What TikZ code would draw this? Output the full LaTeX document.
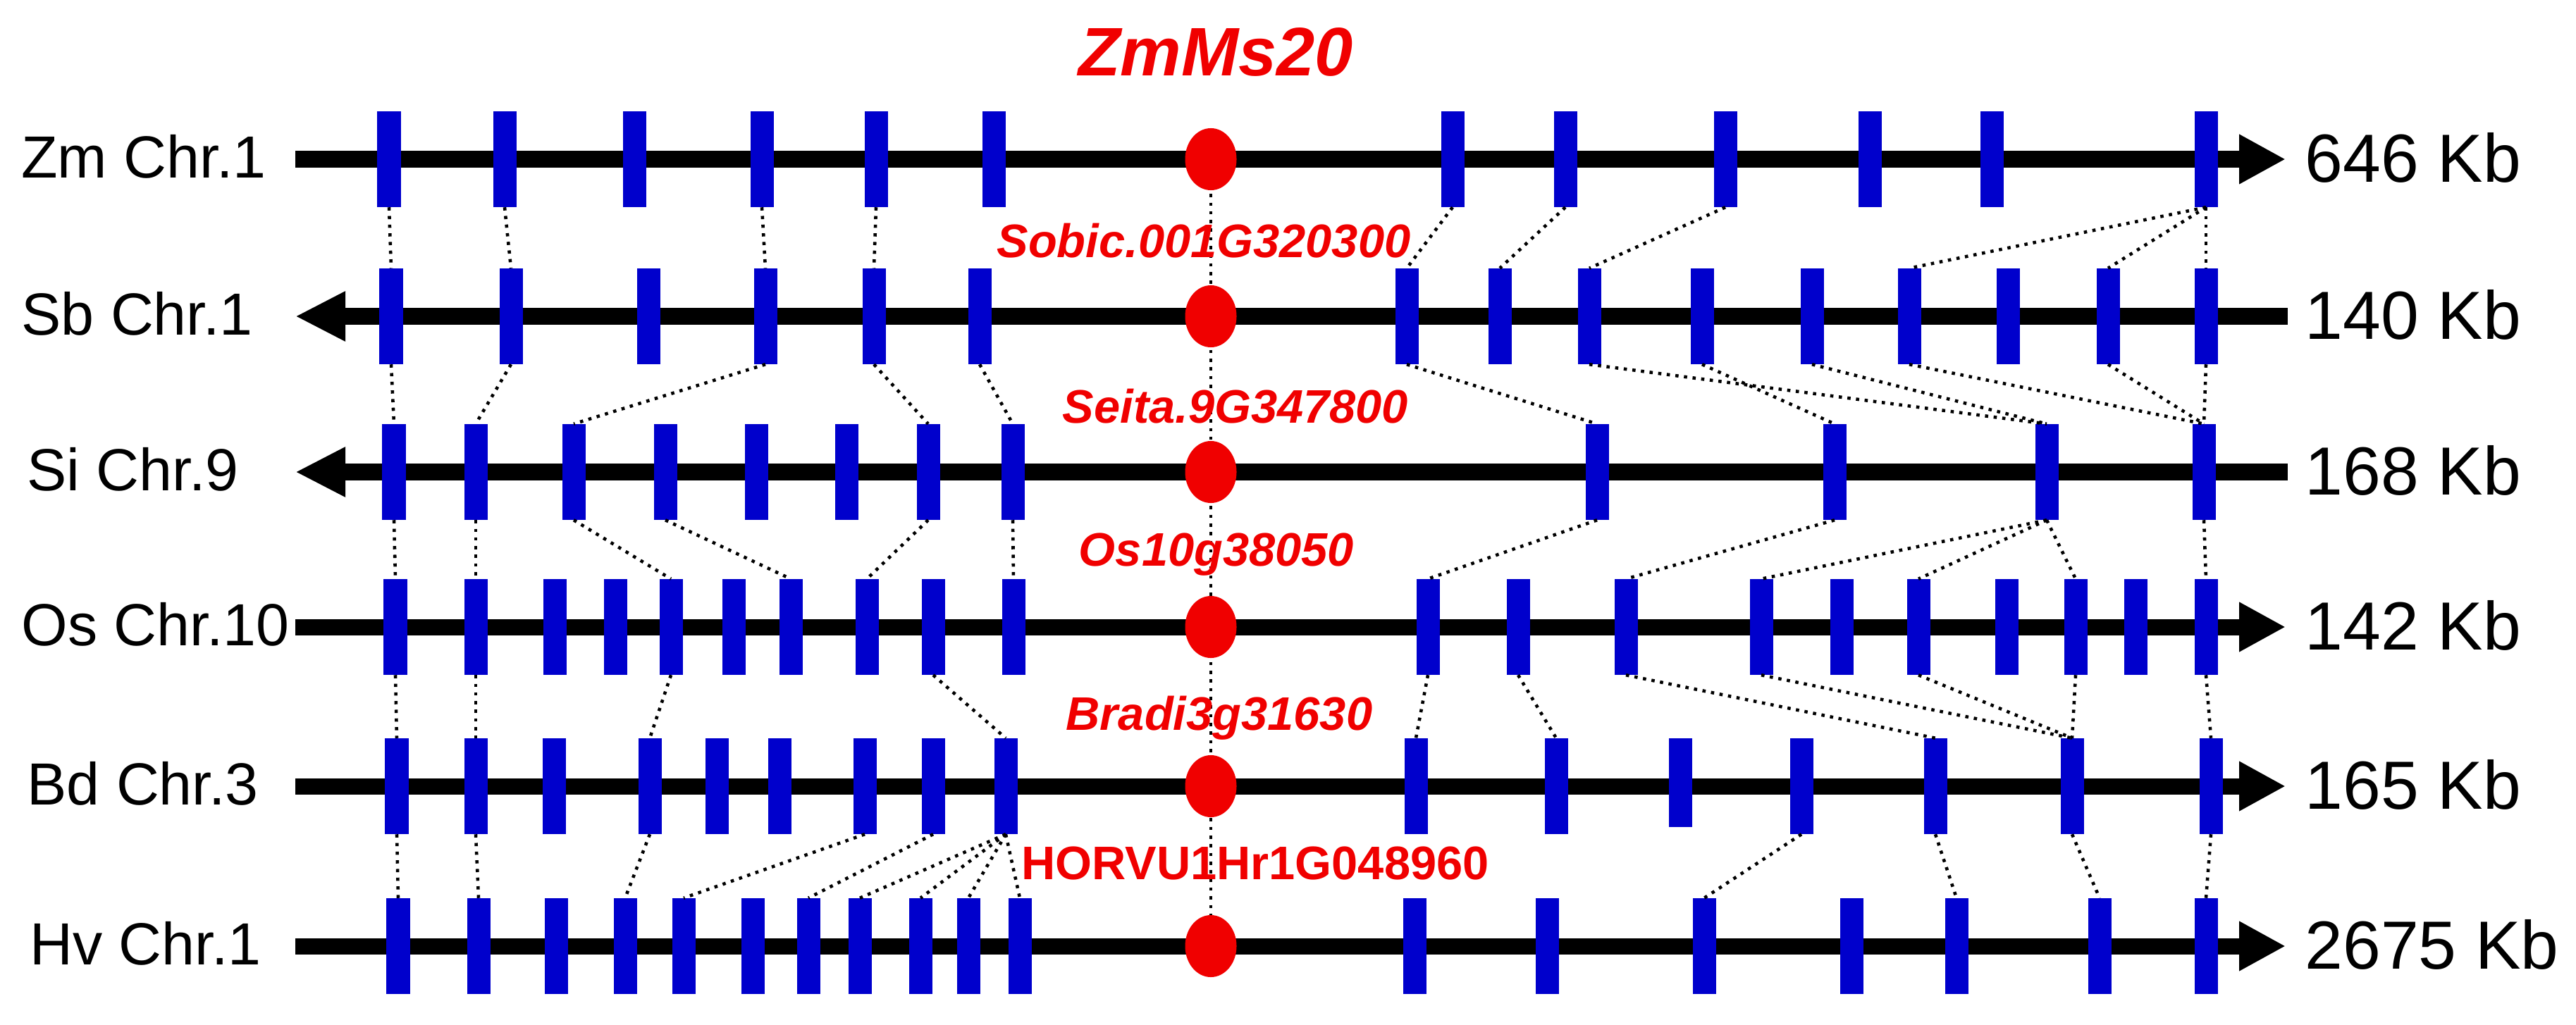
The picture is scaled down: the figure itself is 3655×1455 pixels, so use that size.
\documentclass[tikz,border=0pt]{standalone}
\usepackage{fontspec}
\setmainfont{Liberation Sans}
\usetikzlibrary{arrows.meta,shapes.geometric}
\definecolor{blk}{RGB}{0,0,204}
\definecolor{rd}{RGB}{240,0,0}
\begin{document}
\begin{tikzpicture}[x=0.01cm,y=-0.01cm,
  chr/.style={line width=0.23cm,black},
  rarr/.style={chr,-{Triangle[length=0.66cm,width=0.66cm]}},
  larr/.style={chr,{Triangle[length=0.71cm,width=0.66cm]}-},
  gblock/.style={rectangle,fill=blk,inner sep=0,minimum width=0.33cm,minimum height=1.35cm},
  conn/.style={line width=1.3pt,dash pattern=on 1.3pt off 2.2pt,black},
  gdot/.style={ellipse,fill=rd,inner sep=0,minimum width=0.73cm,minimum height=0.88cm},
  chrlab/.style={anchor=west,font=\fontsize{24}{28}\selectfont},
  kblab/.style={anchor=west,font=\fontsize{27.5}{32}\selectfont},
  genelab/.style={text=rd,font=\fontsize{19}{22}\selectfont\bfseries\itshape},
]
\useasboundingbox (0,0) rectangle (3655,1455);
% chromosome lines
\draw[rarr] (419,226) -- (3243,226);
\draw[larr] (419,449) -- (3246,449);
\draw[larr] (419,670) -- (3246,670);
\draw[rarr] (419,890) -- (3243,890);
\draw[rarr] (419,1116) -- (3243,1116);
\draw[rarr] (419,1343) -- (3243,1343);
% blocks
\foreach \x [count=\i] in {552,716,900,1081,1243,1410,2061,2221,2448,2653,2826,3130}
  \node[gblock] (a\i) at (\x,226) {};
\foreach \x [count=\i] in {555,725,920,1086,1240,1390,1996,2128,2255,2415,2571,2709,2849,2991,3130}
  \node[gblock] (b\i) at (\x,449) {};
\foreach \x [count=\i] in {559,675,814,944,1073,1201,1317,1437,2266,2603,2904,3127}
  \node[gblock] (c\i) at (\x,670) {};
\foreach \x [count=\i] in {561,675,787,873,952,1041,1122,1230,1324,1438,2026,2154,2307,2499,2613,2722,2847,2945,3030,3130}
  \node[gblock] (d\i) at (\x,890) {};
\foreach \x [count=\i] in {563,675,786,922,1017,1106,1227,1324,1427,2009,2208,2556,2746,2940,3137}
  \node[gblock] (e\i) at (\x,1116) {};
\node[gblock,minimum height=1.26cm] (e12s) at (2384,1111) {};
\foreach \x [count=\i] in {565,679,789,887,970,1068,1147,1220,1306,1374,1447,2007,2195,2418,2627,2776,2979,3130}
  \node[gblock] (f\i) at (\x,1343) {};
% connectors
\foreach \p/\q in {1/1,2/2,4/4,5/5,7/7,8/8,9/9,12/12,12/14,12/15}
  \draw[conn] (a\p.south) -- (b\q.north);
\foreach \p/\q in {1/1,2/2,4/3,5/7,6/8,7/9,9/11,10/10,11/11,12/12,14/12,15/12}
  \draw[conn] (b\p.south) -- (c\q.north);
\foreach \p/\q in {1/1,2/2,3/5,4/7,7/8,8/10,9/11,10/13,11/14,11/16,11/18,12/20}
  \draw[conn] (c\p.south) -- (d\q.north);
\foreach \p/\q in {1/1,2/2,5/4,9/9,11/10,12/11,13/13,14/14,16/14,18/14,20/15}
  \draw[conn] (d\p.south) -- (e\q.north);
\foreach \p/\q in {1/1,2/2,4/4,7/5,8/7,9/8,9/9,9/10,9/11,12/14,13/16,14/17,15/18}
  \draw[conn] (e\p.south) -- (f\q.north);
% gene of interest
\coordinate (gtop) at (1718,226);
\coordinate (gbot) at (1718,1343);
\draw[conn] (gtop) -- (gbot);
\foreach \n/\y in {g1/226,g2/449,g3/670,g4/890,g5/1116,g6/1343}
  \node[gdot] (\n) at (1718,\y) {};
% labels
\node[text=rd,font=\fontsize{27.7}{32}\selectfont\bfseries\itshape] (title) at (1725,74) {ZmMs20};
\node[genelab] (l2) at (1708,342) {Sobic.001G320300};
\node[genelab] (l3) at (1753,577) {Seita.9G347800};
\node[genelab] (l4) at (1726,787) {Os10g38050};
\node[genelab] (l5) at (1730,1019) {Bradi3g31630};
\node[text=rd,font=\fontsize{19}{22}\selectfont\bfseries] (l6) at (1781,1225) {HORVU1Hr1G048960};
\node[chrlab] (c1) at (18,222) {Zm Chr.1};
\node[chrlab] (c2) at (18,445) {Sb Chr.1};
\node[chrlab] (c3) at (26,666) {Si Chr.9};
\node[chrlab] (c4) at (18,886) {Os Chr.10};
\node[chrlab] (c5) at (26,1112) {Bd Chr.3};
\node[chrlab] (c6) at (30,1339) {Hv Chr.1};
\node[kblab] (k1) at (3258,224) {646 Kb};
\node[kblab] (k2) at (3258,447) {140 Kb};
\node[kblab] (k3) at (3258,668) {168 Kb};
\node[kblab] (k4) at (3258,888) {142 Kb};
\node[kblab] (k5) at (3258,1114) {165 Kb};
\node[kblab] (k6) at (3258,1341) {2675 Kb};
\end{tikzpicture}
\end{document}
